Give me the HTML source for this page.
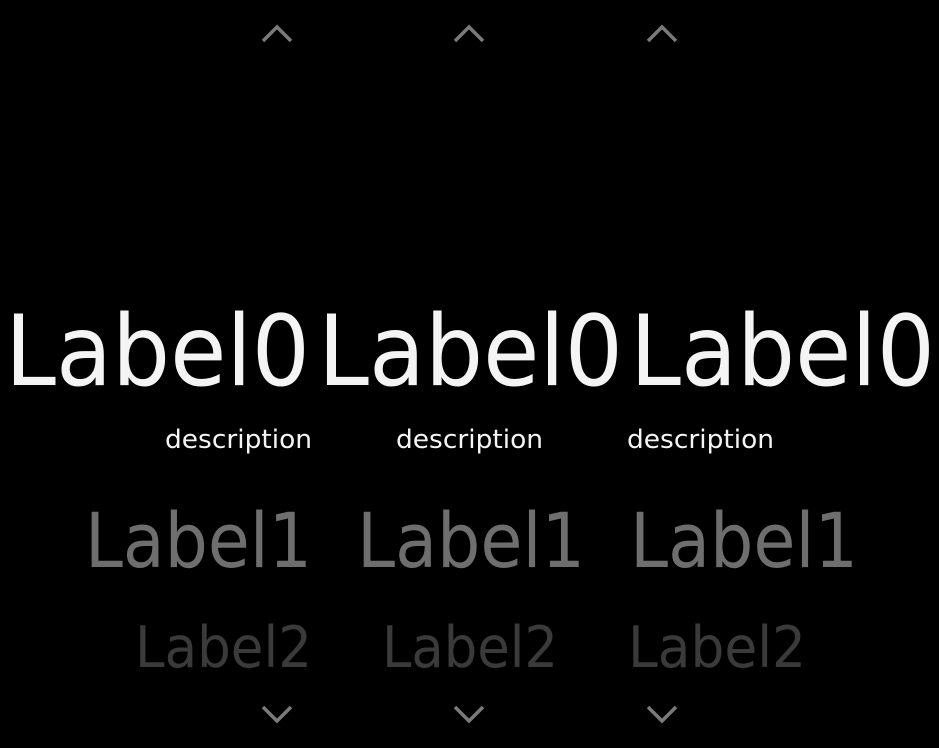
<!DOCTYPE html>
<html><head><style>html,body{margin:0;padding:0;background:#000;width:939px;height:748px;overflow:hidden}</style></head>
<body>
<svg width="939" height="748" viewBox="0 0 939 748" xmlns="http://www.w3.org/2000/svg" style="display:block">
<rect width="939" height="748" fill="#000"/>
<g fill="none" stroke="#7a7a7a" stroke-width="3.5">
<polyline points="263,41 277,27 291,41"/>
<polyline points="455,41 469,27 483,41"/>
<polyline points="648,41 662,27 676,41"/>
<polyline points="263,707 277,721 291,707"/>
<polyline points="455,707 469,721 483,707"/>
<polyline points="648,707 662,721 676,707"/>
</g>
<g font-family="DejaVu Sans, Liberation Sans, sans-serif">
<g fill="#f4f4f4" font-size="98">
<text x="5" y="385" textLength="305" lengthAdjust="spacingAndGlyphs">Label0</text>
<text x="318" y="385" textLength="305" lengthAdjust="spacingAndGlyphs">Label0</text>
<text x="630" y="385" textLength="305" lengthAdjust="spacingAndGlyphs">Label0</text>
</g>
<g fill="#f4f4f4" font-size="26">
<text x="165" y="448" textLength="147" lengthAdjust="spacingAndGlyphs">description</text>
<text x="396" y="448" textLength="147" lengthAdjust="spacingAndGlyphs">description</text>
<text x="627" y="448" textLength="147" lengthAdjust="spacingAndGlyphs">description</text>
</g>
<g fill="#6e6e6e" font-size="76">
<text x="85" y="567" textLength="227" lengthAdjust="spacingAndGlyphs">Label1</text>
<text x="357" y="567" textLength="228" lengthAdjust="spacingAndGlyphs">Label1</text>
<text x="630" y="567" textLength="228" lengthAdjust="spacingAndGlyphs">Label1</text>
</g>
<g fill="#3a3a3a" font-size="57">
<text x="135" y="667" textLength="177" lengthAdjust="spacingAndGlyphs">Label2</text>
<text x="382" y="667" textLength="176" lengthAdjust="spacingAndGlyphs">Label2</text>
<text x="628" y="667" textLength="178" lengthAdjust="spacingAndGlyphs">Label2</text>
</g>
</g>
</svg>
</body></html>
